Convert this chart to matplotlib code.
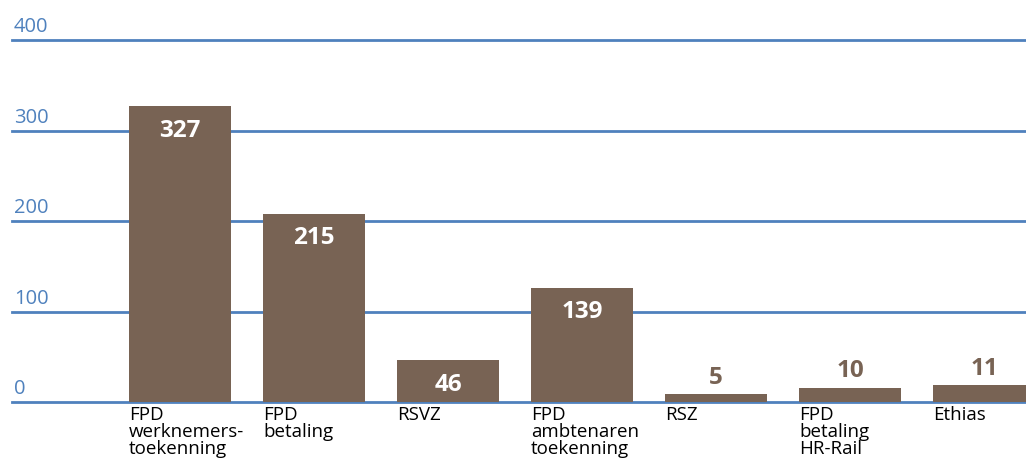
import matplotlib
matplotlib.use("Agg")
import matplotlib.pyplot as plt
import matplotlib.transforms as mtransforms

# Data
categories = [
    "FPD\nwerknemers-\ntoekenning",
    "FPD\nbetaling",
    "RSVZ",
    "FPD\nambtenaren\ntoekenning",
    "RSZ",
    "FPD\nbetaling\nHR-Rail",
    "Ethias",
]
# printed numbers
values = [327, 215, 46, 139, 5, 10, 11]
# bar heights as drawn in the source picture (not quite to scale there)
bar_heights = [327, 208, 46, 126, 9, 16, 19]
y_ticks = [0, 100, 200, 300, 400]

brown = "#786354"
blue = "#4f81bd"

fig = plt.figure(figsize=(10.26, 4.62), dpi=100, facecolor="white")
ax = fig.add_axes([12 / 1026, 60 / 462, 1 - 12 / 1026, 362 / 462])

x = list(range(len(categories)))
width = 0.76
ax.bar(x, bar_heights, width=width, color=brown, zorder=3)

ax.set_xlim(-1.254, 6.313)
ax.set_ylim(0, 400)

# horizontal grid lines
for t in y_ticks:
    ax.axhline(t, color=blue, linewidth=2.0, zorder=2, clip_on=False)

for s in ax.spines.values():
    s.set_visible(False)
ax.set_xticks([])
ax.set_yticks([])

# y labels sit above the lines at the left
trans_y = mtransforms.blended_transform_factory(ax.transAxes, ax.transData)
for t in y_ticks:
    ax.annotate(str(t), xy=(0.002, t), xycoords=trans_y,
                xytext=(0, 2), textcoords="offset points",
                ha="left", va="bottom", color=blue, fontsize=14.5,
                family="Open Sans")

# value labels
for xi, v, h in zip(x, values, bar_heights):
    if h > 30:
        ax.annotate(str(v), xy=(xi, h), xytext=(0, -9),
                    textcoords="offset points", ha="center", va="top",
                    color="white", fontsize=17.5, fontweight="bold",
                    family="Open Sans", zorder=4)
    else:
        ax.annotate(str(v), xy=(xi, h), xytext=(0, 3),
                    textcoords="offset points", ha="center", va="bottom",
                    color=brown, fontsize=17.5, fontweight="bold",
                    family="Open Sans", zorder=4)

# category labels below, left aligned at bar edges
for xi, lab in zip(x, categories):
    ax.annotate(lab, xy=(xi - width / 2, 0), xytext=(0, -3),
                textcoords="offset points", ha="left", va="top",
                color="black", fontsize=13.5, family="Open Sans",
                linespacing=0.92, annotation_clip=False)

fig.savefig("out.png", dpi=100, facecolor="white")
